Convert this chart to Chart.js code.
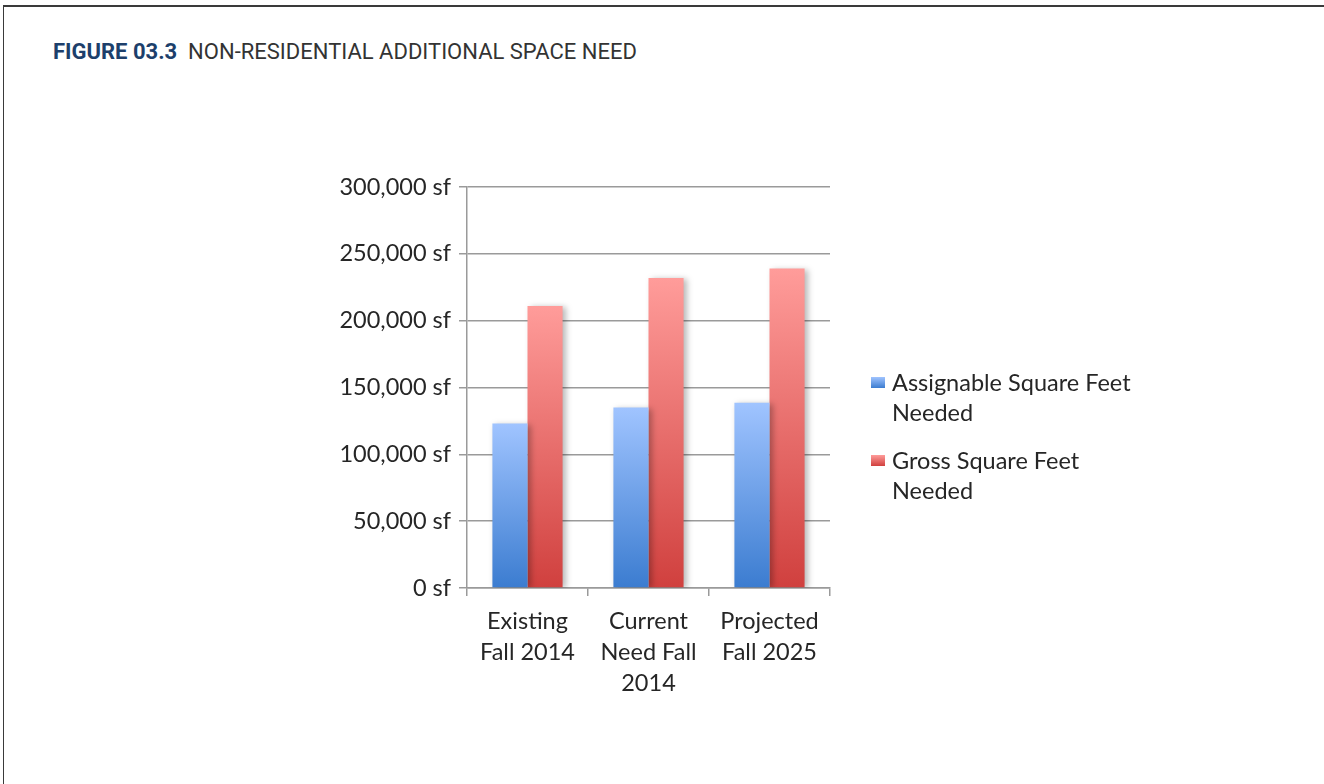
<!DOCTYPE html>
<html>
<head>
<meta charset="utf-8">
<script src="https://cdn.jsdelivr.net/npm/chart.js@4"></script>
<style>
  html, body { margin: 0; padding: 0; background: #fff; }
  body { width: 1324px; height: 784px; position: relative; overflow: hidden; }
  .frame { position: absolute; left: 3px; top: 5px; right: -10px; bottom: -10px;
           border-top: 2px solid #3a3a3a; border-left: 1.5px solid #3a3a3a; }
  .title { position: absolute; left: 53px; top: 39px; font-family: "Roboto", sans-serif;
           font-size: 22px; color: #333; white-space: nowrap; }
  .title b { color: #1d3f6b; }
  #wrap { position: absolute; left: 0; top: 0; width: 1324px; height: 784px; }
  .legend { position: absolute; left: 871px; top: 367px; font-family: Lato, sans-serif; font-size: 23.5px;
            color: #262626; line-height: 30px; }
  .legend .item { position: relative; padding-left: 21px; margin-bottom: 18px; }
  .legend .box { position: absolute; left: 0; top: 10px; width: 14px; height: 11px; }
</style>
</head>
<body>
<div class="frame"></div>
<div class="title"><b>FIGURE 03.3</b>&nbsp; NON-RESIDENTIAL ADDITIONAL SPACE NEED</div>
<div id="wrap"><canvas id="chart" width="1324" height="784"></canvas></div>
<div class="legend" id="legend"></div>
<script>
const categories = [['Existing', 'Fall 2014'], ['Current', 'Need Fall', '2014'], ['Projected', 'Fall 2025']];
const seriesNames = ['Assignable Square Feet Needed', 'Gross Square Feet Needed'];
const assignable = [123000, 135000, 138500];
const gross = [211000, 232000, 239000];
const yTicks = [0, 50000, 100000, 150000, 200000, 250000, 300000];

const blueTop = '#a0c4ff', blueBottom = '#3b7cd0';
const redTop = '#ff9c9a', redBottom = '#d0403e';

function barGradient(top, bottom) {
    return function (context) {
        const chart = context.chart;
        const area = chart.chartArea;
        if (!area || context.raw === undefined) return bottom;
        const yTop = chart.scales.y.getPixelForValue(context.raw);
        const g = chart.ctx.createLinearGradient(0, yTop, 0, area.bottom);
        g.addColorStop(0, top);
        g.addColorStop(1, bottom);
        return g;
    };
}

const shadowPlugin = {
    id: 'barShadow',
    beforeDatasetsDraw(chart) {
        const ctx = chart.ctx;
        ctx.save();
        ctx.shadowColor = 'rgba(0,0,0,0.28)';
        ctx.shadowBlur = 6;
        ctx.shadowOffsetX = 3;
        ctx.shadowOffsetY = 1;
    },
    afterDatasetsDraw(chart) {
        chart.ctx.restore();
    }
};

const tickFont = { family: 'Lato, sans-serif', size: 23.5 };

const ctx = document.getElementById('chart').getContext('2d');
new Chart(ctx, {
    type: 'bar',
    data: {
        labels: categories,
        datasets: [
            { label: seriesNames[0], data: assignable, backgroundColor: barGradient(blueTop, blueBottom),
              categoryPercentage: 0.58, barPercentage: 1.0 },
            { label: seriesNames[1], data: gross, backgroundColor: barGradient(redTop, redBottom),
              categoryPercentage: 0.58, barPercentage: 1.0 }
        ]
    },
    options: {
        responsive: false,
        animation: false,
        devicePixelRatio: 1,
        layout: { padding: { left: 0, right: 494, top: 187, bottom: 0 } },
        plugins: {
            legend: { display: false },
            tooltip: { enabled: false }
        },
        scales: {
            x: {
                grid: { drawOnChartArea: false, drawTicks: true, tickLength: 8, color: '#9a9a9a', lineWidth: 1.5 },
                border: { color: '#9a9a9a', width: 1.5 },
                ticks: { font: { family: 'Lato, sans-serif', size: 23.5, lineHeight: 1.32 }, color: '#262626',
                         padding: 10, maxRotation: 0, autoSkip: false },
                afterFit(scale) { scale.height = 196; }
            },
            y: {
                min: 0,
                max: 300000,
                grid: { color: '#9a9a9a', lineWidth: 1.5, tickLength: 8 },
                border: { color: '#9a9a9a', width: 1.5 },
                afterBuildTicks(scale) { scale.ticks = yTicks.map(v => ({ value: v })); },
                ticks: {
                    font: tickFont, color: '#262626', padding: 8,
                    callback: v => v.toLocaleString('en-US') + ' sf'
                },
                afterFit(scale) { scale.width = 467; }
            }
        }
    },
    plugins: [shadowPlugin]
});

const legendEl = document.getElementById('legend');
const legendColors = [[blueTop, blueBottom], [redTop, redBottom]];
const legendLines = [['Assignable Square Feet', 'Needed'], ['Gross Square Feet', 'Needed']];
legendLines.forEach((lines, i) => {
    const item = document.createElement('div');
    item.className = 'item';
    const box = document.createElement('span');
    box.className = 'box';
    box.style.background = 'linear-gradient(' + legendColors[i][0] + ',' + legendColors[i][1] + ')';
    item.appendChild(box);
    item.appendChild(document.createTextNode(lines[0]));
    item.appendChild(document.createElement('br'));
    item.appendChild(document.createTextNode(lines[1]));
    legendEl.appendChild(item);
});
</script>
</body>
</html>
